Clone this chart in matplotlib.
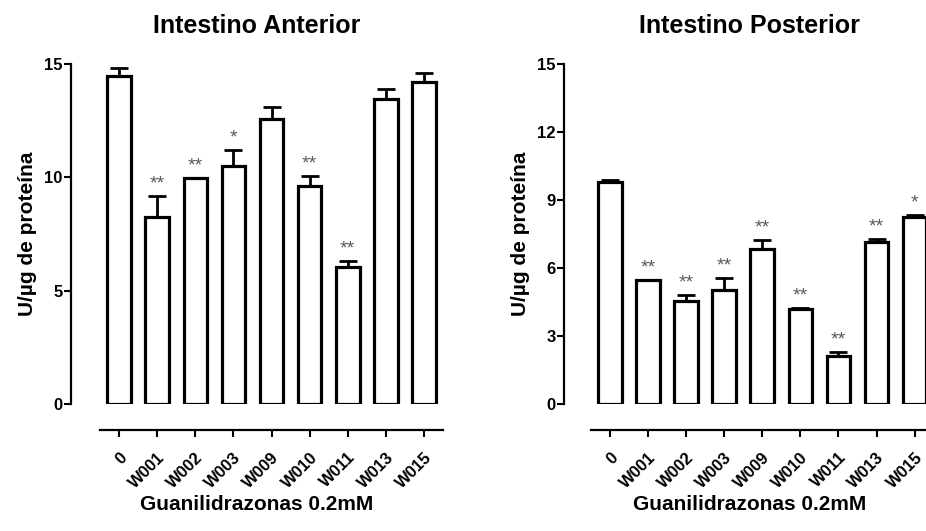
import matplotlib
matplotlib.use("Agg")
import matplotlib.pyplot as plt
import numpy as np

plt.rcParams['font.family'] = ['Liberation Sans', 'DejaVu Sans']
plt.rcParams['font.weight'] = 'bold'

# Actividad por tratamiento (media y extremo superior de la barra de error)
compuestos = ['0', 'W001', 'W002', 'W003', 'W009', 'W010', 'W011', 'W013', 'W015']

anterior_media = [14.47, 8.26, 9.96, 10.5, 12.57, 9.62, 6.06, 13.44, 14.22]
anterior_sup = [14.84, 9.18, 9.99, 11.2, 13.09, 10.07, 6.31, 13.9, 14.59]
anterior_sig = ['', '**', '**', '*', '', '**', '**', '', '']

posterior_media = [9.80, 5.46, 4.53, 5.02, 6.86, 4.21, 2.10, 7.16, 8.27]
posterior_sup = [9.88, 5.48, 4.83, 5.57, 7.25, 4.23, 2.30, 7.30, 8.34]
posterior_sig = ['', '**', '**', '**', '**', '**', '**', '**', '*']

W, H = 926, 531
fig = plt.figure(figsize=(W / 100, H / 100), dpi=100)


def panel(x0, titulo, media, sup, sig, yticks, xleft):
    # ejes en pixeles: eje y en x0, y=0 en 404, y=15 en 64
    ax = fig.add_axes([x0 / W, (H - 404) / H, 371 / W, 340 / H])
    # el eje x va separado por debajo de las barras
    for s in ['top', 'right']:
        ax.spines[s].set_visible(False)
    ax.spines['left'].set_linewidth(1.6)
    ax.spines['bottom'].set_linewidth(1.6)
    ax.spines['bottom'].set_position(('outward', 19))
    ax.spines['bottom'].set_bounds(-0.5, 8.5)

    x = np.arange(len(compuestos))
    media = np.array(media)
    sup = np.array(sup)
    ax.errorbar(x, media, yerr=[np.zeros_like(media), sup - media], fmt='none',
                ecolor='black', elinewidth=2, capsize=6.5, capthick=2, zorder=1)
    ax.bar(x, media, width=0.62, color='white', edgecolor='black', linewidth=2.3, zorder=2)
    for xi, top, s in zip(x, sup, sig):
        if s:
            ax.text(xi, top + 0.15, s, ha='center', va='bottom', fontsize=14,
                    color='#5a5a5a', fontweight='normal')
    ax.set_xlim(xleft, xleft + 371 / 38.1)
    ax.set_ylim(0, 15)
    ax.set_yticks(yticks)
    ax.set_xticks(x)
    ax.set_xticklabels(compuestos, rotation=45, ha='right', rotation_mode='anchor')
    ax.tick_params(axis='y', labelsize=12, width=1.5, length=5, pad=1)
    ax.tick_params(axis='x', labelsize=12, width=1.5, length=5, pad=9)
    ax.set_title(titulo, fontsize=18, fontweight='bold', pad=22)
    ax.set_ylabel('U/µg de proteína', fontsize=15, fontweight='bold', labelpad=5)
    ax.set_xlabel('Guanilidrazonas 0.2mM', fontsize=15, fontweight='bold', labelpad=3)
    return ax


panel(71, 'Intestino Anterior', anterior_media, anterior_sup, anterior_sig,
      [0, 5, 10, 15], -1.263)
panel(564, 'Intestino Posterior', posterior_media, posterior_sup, posterior_sig,
      [0, 3, 6, 9, 12, 15], -1.204)

fig.savefig('out.png', dpi=100)
